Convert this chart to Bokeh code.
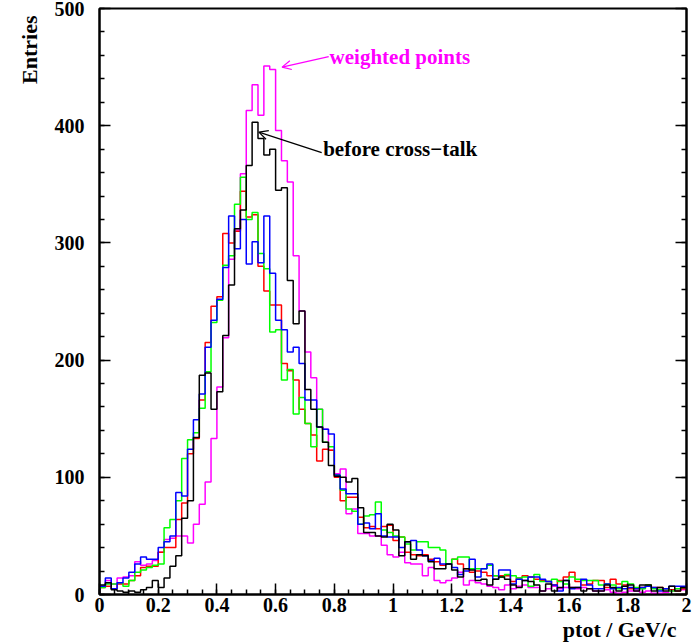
import numpy as np
from bokeh.plotting import figure
from bokeh.models import FixedTicker, LinearAxis, Label, Arrow, OpenHead, Range1d, Title
from bokeh.embed import file_html
from bokeh.resources import INLINE

# ---- data: 100 bins of width 0.02 between 0 and 2 ----
bin_lo = 0.0
bin_hi = 2.0
n_bins = 100

weighted = [7, 12, 9, 14, 15, 16, 28, 25, 26, 29,
            36, 47, 48, 50, 50, 44, 60, 77, 96, 133,
            177, 219, 286, 311, 359, 413, 435, 409, 451, 448,
            396, 370, 352, 289, 242, 207, 185, 158, 141, 123,
            103, 107, 69, 73, 52, 52, 50, 50, 42, 34,
            32, 36, 27, 26, 26, 16, 23, 12, 10, 12,
            14, 19, 8, 12, 10, 9, 7, 6, 4, 8,
            5, 7, 8, 6, 6, 3, 5, 7, 5, 6,
            6, 5, 6, 5, 3, 3, 4, 2, 1, 2,
            3, 3, 2, 3, 1, 1, 2, 3, 5, 4]

before = [8, 10, 4, 3, 2, 3, 2, 4, 6, 12,
          6, 14, 24, 33, 65, 80, 134, 187, 189, 158,
          173, 221, 264, 312, 328, 366, 403, 389, 375, 380,
          345, 347, 268, 231, 242, 175, 158, 143, 130, 110,
          101, 100, 96, 99, 74, 53, 53, 50, 49, 60,
          55, 33, 45, 30, 34, 33, 28, 22, 22, 26,
          21, 15, 22, 21, 12, 13, 8, 13, 15, 13,
          8, 6, 12, 11, 8, 3, 9, 3, 6, 12,
          6, 6, 3, 5, 3, 3, 8, 6, 3, 7,
          8, 3, 8, 8, 3, 6, 3, 7, 3, 6]

red_vals = [6, 7, 5, 9, 9, 12, 16, 23, 24, 24,
            36, 40, 40, 64, 78, 120, 133, 166, 215, 246,
            254, 308, 300, 310, 344, 322, 324, 280, 259, 247,
            247, 197, 191, 183, 158, 146, 136, 114, 124, 123,
            100, 80, 83, 83, 66, 57, 58, 56, 58, 59,
            46, 49, 36, 34, 33, 34, 30, 28, 25, 26,
            30, 26, 22, 19, 20, 19, 16, 16, 16, 16,
            11, 14, 16, 15, 13, 12, 11, 8, 12, 15,
            19, 11, 8, 9, 12, 12, 6, 13, 9, 8,
            5, 5, 6, 8, 6, 6, 5, 4, 3, 5]

green_vals = [6, 9, 9, 10, 7, 12, 19, 21, 23, 25,
              26, 57, 64, 80, 116, 132, 138, 159, 190, 232,
              251, 281, 289, 333, 356, 320, 326, 291, 278, 224,
              226, 183, 192, 154, 168, 146, 126, 158, 130, 126,
              102, 89, 73, 71, 60, 67, 68, 79, 55, 53,
              50, 49, 43, 38, 45, 45, 40, 40, 38, 26,
              30, 32, 32, 22, 22, 22, 25, 16, 15, 17,
              16, 14, 15, 7, 17, 11, 11, 13, 11, 9,
              15, 13, 12, 12, 12, 8, 9, 8, 5, 11,
              9, 6, 5, 8, 5, 4, 5, 3, 5, 6]

blue_vals = [7, 14, 5, 10, 14, 19, 26, 32, 30, 30,
             40, 45, 50, 87, 84, 124, 149, 171, 211, 234,
             252, 279, 323, 295, 320, 282, 301, 283, 323, 274,
             234, 226, 207, 211, 197, 166, 166, 143, 141, 137,
             102, 90, 86, 86, 60, 61, 56, 69, 50, 49,
             49, 40, 45, 46, 38, 33, 29, 31, 26, 26,
             23, 17, 20, 30, 15, 22, 26, 13, 21, 21,
             9, 13, 12, 15, 15, 13, 11, 8, 3, 12,
             5, 6, 13, 8, 5, 5, 9, 5, 6, 5,
             6, 5, 6, 7, 6, 3, 5, 7, 7, 7]

x_ticks = [0, 0.2, 0.4, 0.6, 0.8, 1.0, 1.2, 1.4, 1.6, 1.8, 2.0]
x_tick_labels = ["0", "0.2", "0.4", "0.6", "0.8", "1", "1.2", "1.4", "1.6", "1.8", "2"]
y_ticks = [0, 100, 200, 300, 400, 500]

edges = np.linspace(bin_lo, bin_hi, n_bins + 1)

FONT = "Liberation Serif"

p = figure(width=693, height=644, output_backend="svg", toolbar_location=None,
           x_range=Range1d(0, 2), y_range=Range1d(0, 500),
           min_border_left=99, min_border_right=7, min_border_top=8, min_border_bottom=50)
p.grid.visible = False
p.outline_line_color = "black"
p.outline_line_width = 2
p.background_fill_color = "white"
p.border_fill_color = "white"

def draw_hist(vals, color):
    ys = list(vals) + [vals[-1]]
    xs = list(edges)
    p.line([xs[0], xs[0]], [0, vals[0]], line_color=color, line_width=1.5)
    p.step(xs, ys, mode="after", line_color=color, line_width=1.5)

draw_hist(weighted, "#ff00ff")
draw_hist(red_vals, "#ff0000")
draw_hist(green_vals, "#00ff00")
draw_hist(blue_vals, "#0000ff")
draw_hist(before, "#000000")

# axes styling
xminor = [round(v, 2) for v in np.arange(0, 2.0001, 0.05)]
yminor = list(range(0, 501, 20))
p.xaxis.ticker = FixedTicker(ticks=x_ticks, minor_ticks=xminor)
p.xaxis.major_label_overrides = {t: l for t, l in zip(x_ticks, x_tick_labels)}
p.yaxis.ticker = FixedTicker(ticks=y_ticks, minor_ticks=yminor)

for ax in [p.xaxis[0], p.yaxis[0]]:
    ax.axis_line_width = 2
    ax.major_tick_in = 11
    ax.major_tick_out = 0
    ax.minor_tick_in = 5
    ax.minor_tick_out = 0
    ax.major_tick_line_width = 1.5
    ax.minor_tick_line_width = 1.5
    ax.major_label_text_font = FONT
    ax.major_label_text_font_style = "bold"
    ax.major_label_text_font_size = "20px"
    ax.major_label_text_color = "black"

p.xaxis.major_label_standoff = 3
p.yaxis.major_label_standoff = 15

# right axis with ticks only
ry = LinearAxis(ticker=FixedTicker(ticks=y_ticks, minor_ticks=yminor))
ry.major_label_text_font_size = "0px"
ry.major_tick_in = 11
ry.major_tick_out = 0
ry.minor_tick_in = 5
ry.minor_tick_out = 0
ry.axis_line_width = 2
ry.major_tick_line_width = 1.5
ry.minor_tick_line_width = 1.5
p.add_layout(ry, "right")

# axis titles, aligned to the axis ends as in the original
p.add_layout(Title(text="ptot / GeV/c", align="right", offset=10, standoff=0,
                   text_font=FONT, text_font_style="bold", text_font_size="22px",
                   text_color="black"), "below")
p.add_layout(Title(text="Entries", align="right", offset=7, standoff=20,
                   text_font=FONT, text_font_style="bold", text_font_size="22px",
                   text_color="black"), "left")

# annotations
p.add_layout(Label(x=0.784, y=459, text="weighted points", text_align="left",
                   text_baseline="middle", text_font=FONT, text_font_style="bold",
                   text_font_size="21px", text_color="#ff00ff"))
p.add_layout(Arrow(x_start=0.781, y_start=459, x_end=0.622, y_end=450,
                   line_color="#ff00ff", line_width=1.2,
                   end=OpenHead(size=9, line_color="#ff00ff", line_width=1.2)))
p.add_layout(Label(x=0.762, y=380, text="before cross\u2212talk", text_align="left",
                   text_baseline="middle", text_font=FONT, text_font_style="bold",
                   text_font_size="21px", text_color="black"))
p.add_layout(Arrow(x_start=0.757, y_start=377, x_end=0.543, y_end=394.5,
                   line_color="black", line_width=1.2,
                   end=OpenHead(size=9, line_color="black", line_width=1.2)))

open("out.html", "w").write(file_html(p, INLINE))
